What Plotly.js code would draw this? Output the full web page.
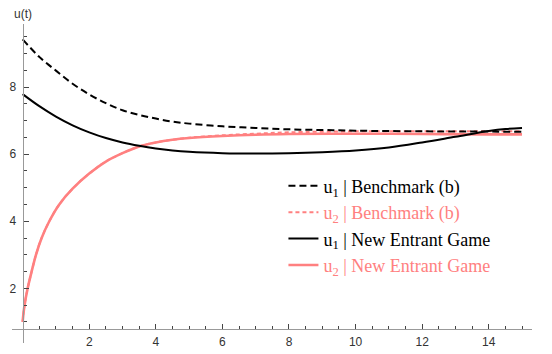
<!DOCTYPE html>
<html>
<head>
<meta charset="utf-8">
<script src="https://cdn.plot.ly/plotly-3.0.1.min.js"></script>
<style>html,body{margin:0;padding:0;background:#fff;}#chart{width:552px;height:354px;}</style>
</head>
<body>
<div id="chart"></div>
<script>
// u1 | Benchmark (b)
const tU1Bench = [0, 0.5, 1, 1.5, 2, 2.5, 3, 3.5, 4, 4.5, 5, 6, 7, 8, 9, 10, 12, 15];
const u1Bench  = [9.42, 8.9, 8.49, 8.1, 7.78, 7.52, 7.31, 7.17, 7.06, 6.97, 6.91, 6.83, 6.78, 6.74, 6.72, 6.70, 6.68, 6.67];
// u2 | Benchmark (b)
const tU2Bench = [0, 0.05, 0.15, 0.27, 0.4, 0.57, 0.8, 1.1, 1.5, 2.0, 2.5, 3.0, 3.5, 4.0, 5.0, 6.0, 7.0, 8.0, 10, 12, 14, 15];
const u2Bench  = [1.0, 1.45, 2.0, 2.5, 3.0, 3.5, 4.0, 4.5, 4.97, 5.42, 5.78, 6.03, 6.23, 6.35, 6.49, 6.56, 6.61, 6.65, 6.68, 6.68, 6.68, 6.68];
// u1 | New Entrant Game
const tU1New = [0, 0.5, 1, 1.5, 2, 2.5, 3, 3.5, 4, 4.5, 5, 6, 7, 8, 9, 10, 11, 12, 13, 14, 14.5, 15];
const u1New  = [7.79, 7.43, 7.12, 6.86, 6.65, 6.48, 6.35, 6.25, 6.17, 6.11, 6.07, 6.03, 6.02, 6.03, 6.06, 6.11, 6.2, 6.35, 6.52, 6.69, 6.75, 6.78];
// u2 | New Entrant Game
const tU2New = [0, 0.05, 0.15, 0.27, 0.4, 0.57, 0.8, 1.1, 1.5, 2.0, 2.5, 3.0, 3.5, 4.0, 4.5, 5.0, 6.0, 7.0, 8.0, 10, 12, 14, 15];
const u2New  = [1.0, 1.45, 2.0, 2.5, 3.0, 3.5, 4.0, 4.5, 4.97, 5.42, 5.78, 6.03, 6.23, 6.35, 6.43, 6.48, 6.54, 6.58, 6.6, 6.61, 6.6, 6.59, 6.59];

const xMajor = [2, 4, 6, 8, 10, 12, 14];
const yMajor = [2, 4, 6, 8];

const PINK = '#ff8080';
const xRange = [-0.32, 15.3];
const yRange = [0.37, 9.88];

const xMinor = [];
for (let v = 0.5; v <= 15; v += 0.5) if (v % 2 !== 0) xMinor.push(v);
const yMinor = [];
for (let v = 1; v <= 9.5; v += 0.5) if (v % 2 !== 0) yMinor.push(v);

function lbl(sub, txt, color) {
  return '<span style="color:' + color + '">u<sub>' + sub + '</sub> | ' + txt + '</span>';
}

const traces = [
  {x: tU2Bench, y: u2Bench, mode: 'lines', name: lbl(2, 'Benchmark (b)', PINK),
   line: {color: PINK, width: 2, dash: '4px,3px', shape: 'spline', smoothing: 1},
   legendrank: 2, legendgroup: 'b', hoverinfo: 'skip'},
  {x: tU1Bench, y: u1Bench, mode: 'lines', name: lbl(1, 'Benchmark (b)', '#000'),
   line: {color: '#000', width: 2, dash: '7px,4px', shape: 'spline', smoothing: 1},
   legendrank: 1, legendgroup: 'a', hoverinfo: 'skip'},
  {x: tU2New, y: u2New, mode: 'lines', name: lbl(2, 'New Entrant Game', PINK),
   line: {color: PINK, width: 2.6, shape: 'spline', smoothing: 1},
   legendrank: 4, legendgroup: 'd', hoverinfo: 'skip'},
  {x: tU1New, y: u1New, mode: 'lines', name: lbl(1, 'New Entrant Game', '#000'),
   line: {color: '#000', width: 2, shape: 'spline', smoothing: 1},
   legendrank: 3, legendgroup: 'c', hoverinfo: 'skip'}
];

const xPos = (0.8 - yRange[0]) / (yRange[1] - yRange[0]);
const yPos = (0 - xRange[0]) / (xRange[1] - xRange[0]);

const layout = {
  width: 552, height: 354,
  margin: {l: 11.7, r: 20.3, t: 24, b: 11, pad: 0},
  paper_bgcolor: '#fff', plot_bgcolor: '#fff',
  font: {family: 'Liberation Sans, Arial, sans-serif', size: 12, color: '#333'},
  showlegend: true,
  legend: {
    x: 0.522, y: 0.55, xanchor: 'left', yanchor: 'top',
    bgcolor: 'rgba(0,0,0,0)', borderwidth: 0,
    font: {family: 'Liberation Serif, Times New Roman, serif', size: 18, color: '#000'},
    traceorder: 'normal', tracegroupgap: 1, itemwidth: 30
  },
  xaxis: {
    range: xRange, anchor: 'free', position: xPos,
    showline: true, linecolor: '#999', linewidth: 1,
    showgrid: false, zeroline: false,
    tickmode: 'array', tickvals: xMajor, ticktext: xMajor.map(String),
    ticks: 'inside', ticklen: 5, tickcolor: '#444', tickwidth: 1,
    minor: {tickmode: 'array', tickvals: xMinor, ticks: 'inside', ticklen: 3, tickcolor: '#444', showgrid: false},
    tickfont: {size: 12, color: '#333'}, ticklabelstandoff: 2
  },
  yaxis: {
    range: yRange, anchor: 'free', position: yPos,
    showline: true, linecolor: '#999', linewidth: 1,
    showgrid: false, zeroline: false,
    tickmode: 'array', tickvals: yMajor, ticktext: yMajor.map(String),
    ticks: 'inside', ticklen: 5, tickcolor: '#444', tickwidth: 1,
    minor: {tickmode: 'array', tickvals: yMinor, ticks: 'inside', ticklen: 3, tickcolor: '#444', showgrid: false},
    tickfont: {size: 12, color: '#333'}, ticklabelstandoff: 4
  },
  annotations: [
    {text: 'u(t)', xref: 'x', yref: 'paper', x: 0, y: 1.03, xanchor: 'center', yanchor: 'middle',
     showarrow: false, font: {family: 'Liberation Sans, Arial, sans-serif', size: 12, color: '#333'}},
    {text: 't', xref: 'x', yref: 'y', x: 15.9, y: 0.8, xanchor: 'center', yanchor: 'middle',
     showarrow: false, font: {family: 'Liberation Sans, Arial, sans-serif', size: 12, color: '#333'}}
  ]
};

Plotly.newPlot('chart', traces, layout, {staticPlot: true, displayModeBar: false});
</script>
</body>
</html>
